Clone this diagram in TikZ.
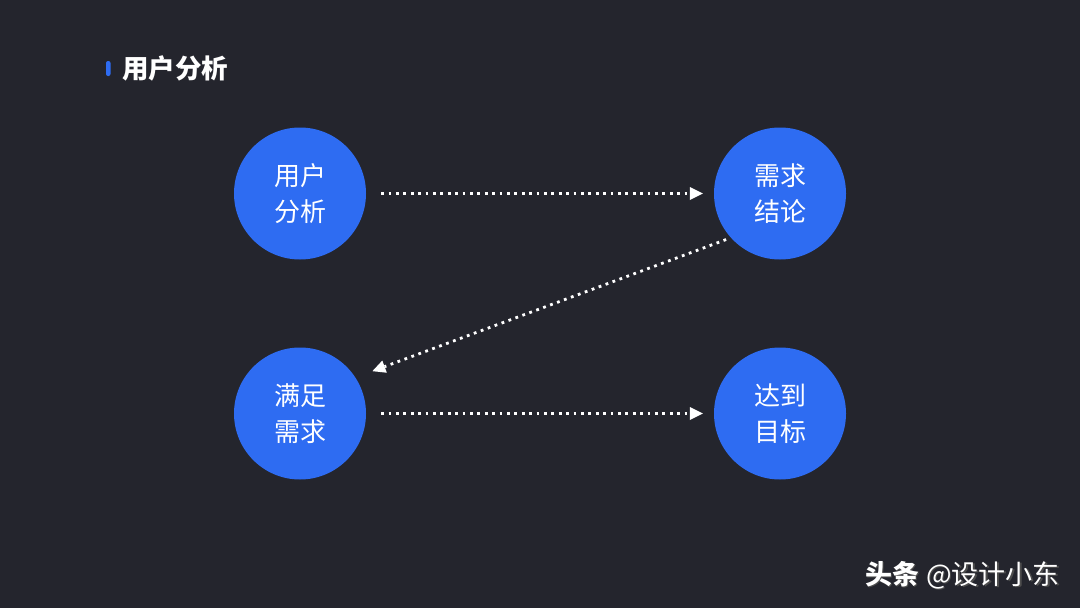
\documentclass[tikz,border=0pt]{standalone}
\usepackage{fontspec}
\newfontfamily\cjk{Noto Sans CJK SC}
\usetikzlibrary{arrows.meta}
\definecolor{bg}{RGB}{36,37,45}
\definecolor{nodeblue}{RGB}{46,108,242}
\tikzset{
  stage/.style={circle, fill=nodeblue, minimum size=132pt, inner sep=0pt, text=white, align=center,
    font=\cjk\fontsize{26}{36}\selectfont},
  flow/.style={draw=white, line width=2.8pt, dash pattern=on 2.8pt off 4.6pt,
    -{Triangle[length=13pt,width=13pt,fill=white,line width=0pt]}},
}
\begin{document}
\begin{tikzpicture}[x=1pt,y=-1pt]
\fill[bg] (0,0) rectangle (1080,608);
\useasboundingbox (0,0) rectangle (1080,608);
% title
\fill[nodeblue, rounded corners=2pt] (106,61) rectangle (110.5,76);
\node[anchor=west, text=white, inner sep=0pt, font=\cjk\bfseries\fontsize{26.5}{30}\selectfont] (title) at (122,68) {用户分析};
% stages
\node[stage] (a) at (300,193.5) {用户\\分析};
\node[stage] (b) at (780,193.5) {需求\\结论};
\node[stage] (c) at (300,413.5) {满足\\需求};
\node[stage] (d) at (780,413.5) {达到\\目标};
% connectors
\draw[flow, shorten <=15pt, shorten >=11pt] (a) -- (b);
\draw[flow, shorten <=5pt, shorten >=18pt] (b.222) -- (c.33);
\draw[flow, shorten <=15pt, shorten >=11pt] (c) -- (d);
% watermark
\node[anchor=east, text=black!70, inner sep=0pt, font=\cjk\fontsize{27}{30}\selectfont] at (1061.5,576.5) {{\bfseries 头条}\hspace{7pt}@设计小东};
\node[anchor=east, text=white, inner sep=0pt, font=\cjk\fontsize{27}{30}\selectfont] (wm) at (1060,575) {{\bfseries 头条}\hspace{7pt}@设计小东};
\end{tikzpicture}
\end{document}
